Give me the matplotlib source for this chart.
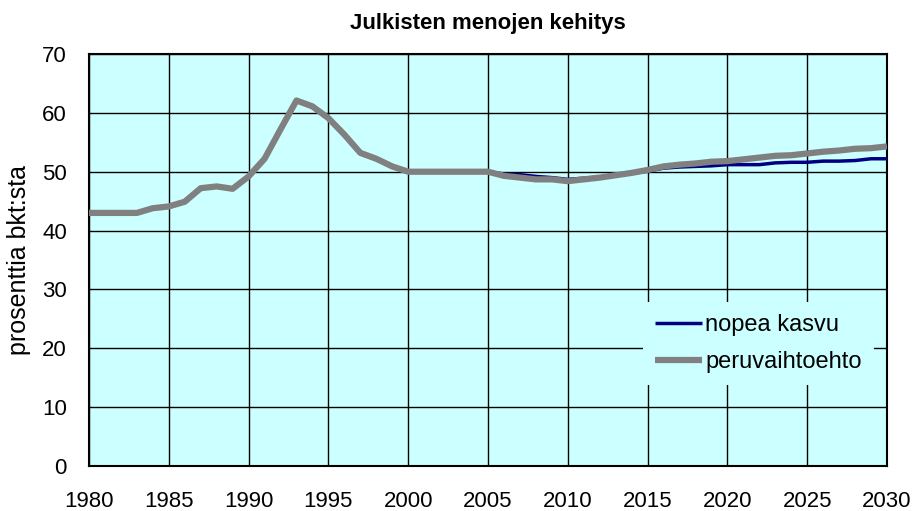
import matplotlib
matplotlib.use("Agg")
import matplotlib.pyplot as plt

plt.rcParams['font.family'] = ['Liberation Sans', 'DejaVu Sans']

years = list(range(1980, 2031))
peru = [43.0, 43.0, 43.0, 43.0, 43.8, 44.1, 44.9, 47.2, 47.5, 47.1,
        49.2, 52.2, 57.2, 62.1, 61.1, 59.1, 56.3, 53.2, 52.2, 50.9,
        50.0, 50.0, 50.0, 50.0, 50.0, 50.0, 49.3, 49.0, 48.7, 48.7,
        48.4, 48.7, 49.0, 49.4, 49.8, 50.3, 50.9, 51.2, 51.4, 51.7,
        51.8, 52.1, 52.4, 52.7, 52.8, 53.1, 53.4, 53.6, 53.9, 54.0,
        54.3]
nopea = [43.0, 43.0, 43.0, 43.0, 43.8, 44.1, 44.9, 47.2, 47.5, 47.1,
         49.2, 52.2, 57.2, 62.1, 61.1, 59.1, 56.3, 53.2, 52.2, 50.9,
         50.0, 50.0, 50.0, 50.0, 50.0, 50.0, 49.6, 49.5, 49.2, 49.0,
         48.7, 48.9, 49.1, 49.4, 49.7, 50.1, 50.6, 50.8, 50.9, 51.0,
         51.2, 51.2, 51.2, 51.5, 51.6, 51.6, 51.8, 51.8, 51.9, 52.2,
         52.2]
x_ticks = list(range(1980, 2031, 5))
y_ticks = list(range(0, 71, 10))

fig = plt.figure(figsize=(9.13, 5.11), dpi=100)
ax = fig.add_axes([89/913, 1 - 466/511, (887-89)/913, (466-54)/511])
ax.set_facecolor('#CCFFFF')

ax.plot(years, nopea, color='#000080', lw=2.5, label='nopea kasvu', zorder=3,
        solid_capstyle='butt')
ax.plot(years, peru, color='#808080', lw=4.5, label='peruvaihtoehto', zorder=4,
        solid_capstyle='butt', solid_joinstyle='round')

ax.set_xlim(1980, 2030)
ax.set_ylim(0, 70)
ax.set_xticks(x_ticks)
ax.set_yticks(y_ticks)
ax.grid(True, color='black', lw=1.0, zorder=1)
ax.set_axisbelow(True)
ax.tick_params(axis='both', labelsize=16, length=0)
ax.tick_params(axis='y', pad=16)
ax.tick_params(axis='x', pad=18)
for s in ax.spines.values():
    s.set_color('black')
    s.set_linewidth(1.5)

ax.set_ylabel('prosenttia bkt:sta', fontsize=18, labelpad=8)
ax.set_title('Julkisten menojen kehitys', fontsize=16, fontweight='bold', pad=18)

leg = ax.legend(loc='lower right', bbox_to_anchor=(0.998, 0.168), fontsize=17,
                frameon=True, handlelength=2.0, handletextpad=0.15,
                labelspacing=0.65, borderpad=0.5)
leg.get_frame().set_facecolor('#CCFFFF')
leg.get_frame().set_edgecolor('none')
leg.get_frame().set_alpha(1)
leg.set_zorder(5)

fig.savefig('out.png', dpi=100)
